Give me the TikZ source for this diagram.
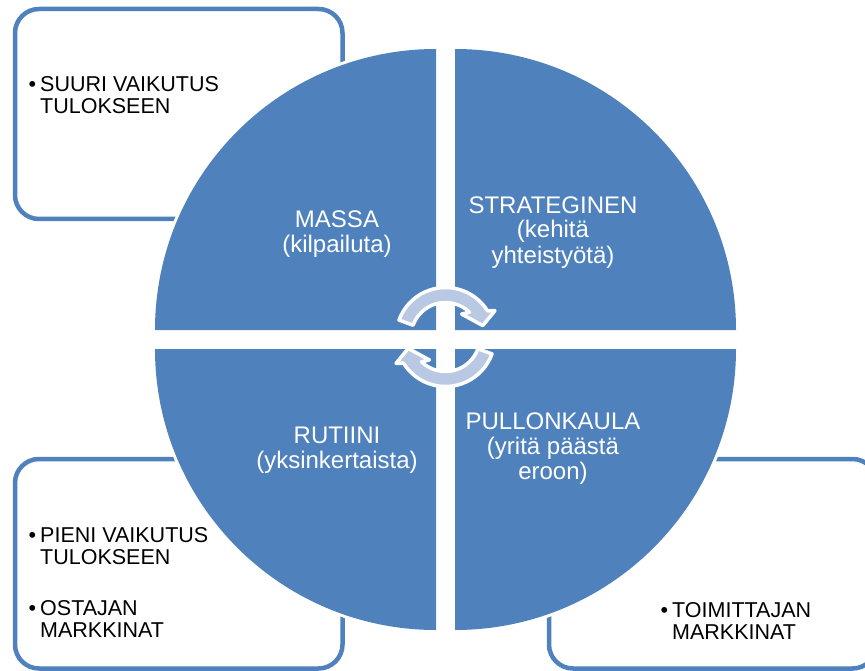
\documentclass[tikz,border=0pt]{standalone}
\usepackage{fontspec}
\setmainfont{Liberation Sans}
\definecolor{qblue}{RGB}{79,129,189}
\definecolor{arrowfill}{RGB}{185,201,227}
\begin{document}
\begin{tikzpicture}[x=1pt,y=1pt,
  box/.style={draw=qblue, line width=4.5pt, rounded corners=24pt, fill=white},
  halo/.style={fill=white},
  quad/.style={fill=qblue},
  qtext/.style={text=white, font=\fontsize{24}{25}\selectfont, align=center, anchor=base, inner sep=0pt},
  btext/.style={text=black, font=\fontsize{21.5}{22}\selectfont, align=left, anchor=base west, inner sep=0pt},
  cyc/.style={fill=arrowfill, draw=white, line width=3.5pt, line join=round}
]
\useasboundingbox (0,0) rectangle (865,-671);

% side boxes
\draw[box] (15,-9) rectangle (342.5,-219);
\draw[box] (15,-459) rectangle (342.5,-668.5);
\draw[box] (549,-459) rectangle (876.5,-668.5);

% white halo behind each quarter disc
\fill[halo] (436,-330) -- ++(180:284) arc[start angle=180,end angle=90,radius=284pt] -- cycle;
\fill[halo] (455,-330) -- ++(90:284) arc[start angle=90,end angle=0,radius=284pt] -- cycle;
\fill[halo] (436,-349) -- ++(270:284) arc[start angle=270,end angle=180,radius=284pt] -- cycle;
\fill[halo] (455,-349) -- ++(0:284) arc[start angle=0,end angle=-90,radius=284pt] -- cycle;

% quarter discs
\fill[quad] (436,-330) -- ++(180:281) arc[start angle=180,end angle=90,radius=281pt] -- cycle;
\fill[quad] (455,-330) -- ++(90:281) arc[start angle=90,end angle=0,radius=281pt] -- cycle;
\fill[quad] (436,-349) -- ++(270:281) arc[start angle=270,end angle=180,radius=281pt] -- cycle;
\fill[quad] (455,-349) -- ++(0:281) arc[start angle=0,end angle=-90,radius=281pt] -- cycle;

% quadrant labels (anchored on the baseline of their last line)
\node[qtext] (massa) at (337,-252.5) {MASSA\\(kilpailuta)};
\node[qtext] (strat) at (553,-263) {STRATEGINEN\\(kehitä\\yhteistyötä)};
\node[qtext] (rutiini) at (337,-468) {RUTIINI\\(yksinkertaista)};
\node[qtext] (pullo) at (553,-479) {PULLONKAULA\\(yritä päästä\\eroon)};

% box texts
\node[btext] (suuri) at (40,-113.5) {\llap{•\hspace{4pt}}SUURI VAIKUTUS\\TULOKSEEN};
\node[btext] (pieni) at (40,-564) {\llap{•\hspace{4pt}}PIENI VAIKUTUS\\TULOKSEEN};
\node[btext] (ostaja) at (40,-637.5) {\llap{•\hspace{4pt}}OSTAJAN\\MARKKINAT};
\node[btext] (toimittaja) at (672,-639.5) {\llap{•\hspace{4pt}}TOIMITTAJAN\\MARKKINAT};

% circular arrows in the middle
\begin{scope}[shift={(445.5,-337)}]
  \path[cyc] (160:49.5) arc[start angle=160,end angle=32,radius=49.5pt]
    -- (28:56) -- (17:39) -- (55:28) -- (46:34.5)
    arc[start angle=46,end angle=160,radius=34.5pt] -- cycle;
\end{scope}
\begin{scope}[shift={(445.5,-337)}, rotate=180]
  \path[cyc] (160:49.5) arc[start angle=160,end angle=32,radius=49.5pt]
    -- (28:56) -- (17:39) -- (55:28) -- (46:34.5)
    arc[start angle=46,end angle=160,radius=34.5pt] -- cycle;
\end{scope}
\end{tikzpicture}
\end{document}
